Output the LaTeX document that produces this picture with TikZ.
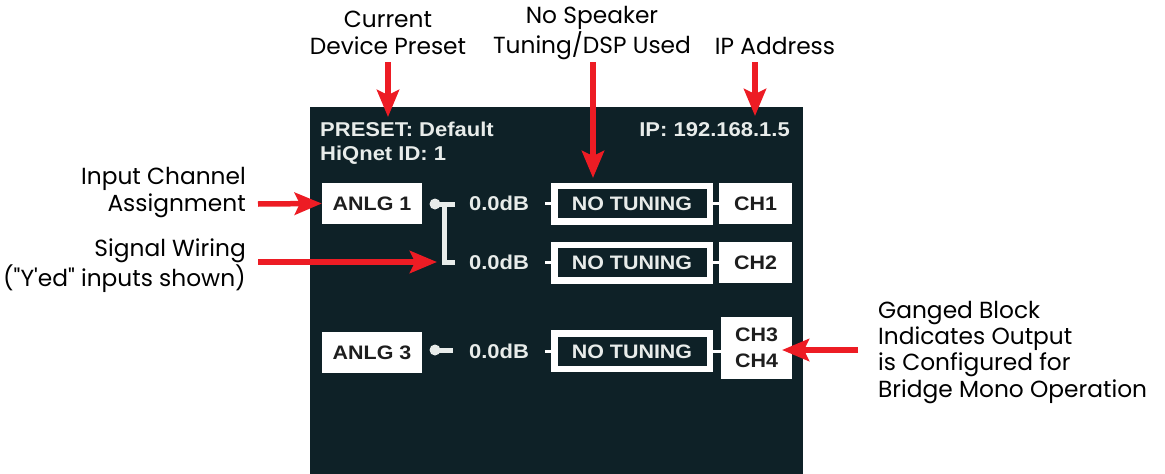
\documentclass[tikz,border=0pt]{standalone}
\usepackage{fontspec}
\usetikzlibrary{arrows.meta}
\newfontfamily\notefont{Poppins}
\newfontfamily\lcd{Liberation Sans Bold}[FakeStretch=1.1]
\definecolor{screen}{RGB}{14,33,39}
\definecolor{lcdtext}{RGB}{232,236,234}
\definecolor{boxtext}{RGB}{30,30,30}
\definecolor{callred}{RGB}{237,28,36}

\begin{document}
\begin{tikzpicture}[x=1pt,y=-1pt,
  note/.style={font=\notefont\fontsize{23.3}{27}\selectfont, inner sep=0pt, text=black},
  callout/.style={draw=callred, line width=5.5pt,
    -{Stealth[length=27pt,width=22pt,inset=5pt]}},
  lcdlabel/.style={font=\lcd\fontsize{20}{25}\selectfont, text=lcdtext, inner sep=0pt},
  lcdcell/.style={font=\lcd\fontsize{19.5}{25}\selectfont, text height=14pt, text depth=0pt},
  inbox/.style={lcdcell, fill=white, text=boxtext, inner sep=0pt,
    minimum width=100pt, minimum height=41pt},
  outbox/.style={lcdcell, fill=white, text=boxtext, inner sep=0pt,
    minimum width=73pt, minimum height=41pt},
  tunebox/.style={lcdcell, draw=white, line width=6.5pt, fill=screen, text=lcdtext,
    inner sep=0pt, minimum width=155.5pt, minimum height=35.5pt},
  gain/.style={lcdlabel, text height=14pt, text depth=0pt, font=\lcd\fontsize{20}{25}\selectfont},
  dotend/.style={circle, fill=lcdtext, inner sep=0pt, minimum size=11pt},
  wire/.style={draw=lcdtext, line width=5pt},
  tick/.style={draw=white, line width=3pt}
]
\useasboundingbox[fill=white] (0,0) rectangle (1165,474);

% display panel
\fill[screen] (310,107) rectangle (803,474);

% header lines
\node[lcdlabel, anchor=base west] (preset) at (320,136) {PRESET: Default};
\node[lcdlabel, anchor=base west] (hiqnet) at (320,160) {HiQnet ID: 1};
\node[lcdlabel, anchor=base east] (ip) at (790,136) {IP: 192.168.1.5};

% channel row 1
\node[inbox] (anlg1) at (372,203.5) {ANLG 1};
\node[dotend] (dot1) at (435,204) {};
\node[gain] (db1) at (499,203.5) {0.0dB};
\node[tunebox] (tune1) at (632,203.5) {NO TUNING};
\node[outbox] (ch1) at (755.5,203.5) {CH1};

% channel row 2
\node[gain] (db2) at (499,262.5) {0.0dB};
\node[tunebox] (tune2) at (632,262.5) {NO TUNING};
\node[outbox] (ch2) at (755.5,262.5) {CH2};

% channel row 3 (bridged pair)
\node[inbox] (anlg3) at (372,352.5) {ANLG 3};
\node[dotend] (dot3) at (435,350) {};
\node[gain] (db3) at (499,351) {0.0dB};
\node[tunebox] (tune3) at (632,351) {NO TUNING};
\node[lcdcell, fill=white, text=boxtext, inner sep=0pt, minimum width=71pt,
  minimum height=62pt, align=center, text height=, text depth=,
  font=\lcd\fontsize{19.5}{25.5}\selectfont] (ch34) at (756.5,348) {CH3\\CH4};

% input wiring
\coordinate (w1) at (455,204);
\coordinate (j1) at (444,204);
\coordinate (j2) at (444,262.5);
\coordinate (w2) at (455,262.5);
\coordinate (w3) at (453,350);
\draw[wire] (dot1.center) -- (w1);
\draw[wire, line join=miter] (j1) -- (j2) -- (w2);
\draw[wire] (dot3.center) -- (w3);

% stubs into and out of the tuning blocks
\foreach \r in {1,2,3}{
  \draw[tick] (tune\r.west) -- ++(-6,0);
}
\draw[tick] (tune1.east) -- (ch1.west);
\draw[tick] (tune2.east) -- (ch2.west);
\draw[tick] (tune3.east) -- (tune3.east -| ch34.west);

% annotations (anchored on the baseline of their last line)
\node[note, align=center, anchor=base] (presetnote) at (388,54) {Current\\Device Preset};
\node[note, align=center, anchor=base] (tuningnote) at (592,53) {No Speaker\\Tuning/DSP Used};
\node[note, anchor=base] (ipnote) at (775,54) {IP Address};
\node[note, align=right, anchor=base east] (inputnote) at (246,211) {Input Channel\\Assignment};
\node[note, align=right, anchor=base east] (wiringnote) at (246,286) {Signal Wiring\\("Y'ed" inputs shown)};
\node[note, align=left, anchor=base west, font=\notefont\fontsize{23.3}{26.3}\selectfont]
  (gangnote) at (878,397) {Ganged Block\\Indicates Output\\is Configured for\\Bridge Mono Operation};

% callout arrows
\coordinate (a1s) at (388,62);   \coordinate (a1e) at (388,117);
\coordinate (a2s) at (593,62);   \coordinate (a2e) at (593,178);
\coordinate (a3s) at (755,62);   \coordinate (a3e) at (755,116);
\coordinate (a4s) at (258,204);
\coordinate (a5s) at (258,262);  \coordinate (a5e) at (437,262);
\coordinate (a6s) at (858,350);  \coordinate (a6e) at (782,350);
\draw[callout] (a1s) -- (a1e);
\draw[callout] (a2s) -- (a2e);
\draw[callout] (a3s) -- (a3e);
\draw[callout] (a4s) -- (anlg1.west);
\draw[callout] (a5s) -- (a5e);
\draw[callout] (a6s) -- (a6e);
\end{tikzpicture}
\end{document}
